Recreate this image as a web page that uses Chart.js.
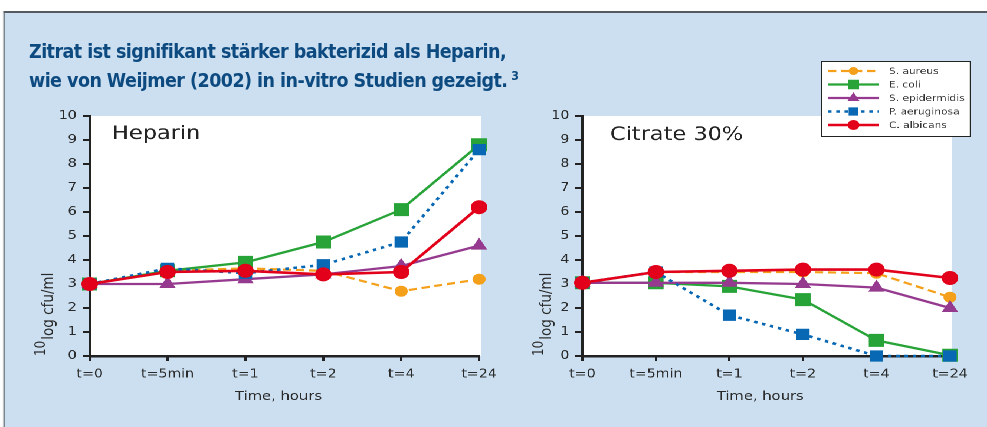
<!DOCTYPE html>
<html><head><meta charset="utf-8">
<script src="https://cdn.jsdelivr.net/npm/chart.js@4.4.1/dist/chart.umd.min.js"></script>
<style>
html,body{margin:0;padding:0;background:#fff;overflow:hidden;}
#wrap{position:absolute;left:0;top:0;width:837px;height:427px;transform:scaleX(1.18);transform-origin:0 0;}
#box{position:absolute;left:3.4px;top:11px;width:900px;height:430px;background:#cbdff0;border-left:1.7px solid #555a60;border-top:2px solid #555a60;}
.tl{position:absolute;left:29px;font-family:"DejaVu Sans";font-weight:bold;font-size:19px;line-height:19px;letter-spacing:-0.6px;color:#0d4a80;white-space:nowrap;transform-origin:0 0;}
.tl sup{font-size:12px;line-height:0;vertical-align:baseline;position:relative;top:-7px;letter-spacing:0;}
canvas{position:absolute;top:50px;}
#c1{left:0;}
#c2{left:420px;}
</style></head>
<body>
<div id="wrap">
  <div id="box"></div>
  <canvas id="c1" width="430" height="370"></canvas>
  <canvas id="c2" width="417" height="370"></canvas>
</div>
<div class="tl" id="t1" style="top:41.5px">Zitrat ist signifikant stärker bakterizid als Heparin,</div>
<div class="tl" id="t2" style="top:71px">wie von Weijmer (2002) in in-vitro Studien gezeigt.<sup> 3</sup></div>
<script>
// ---- data ----
const categories = ['t=0', 't=5min', 't=1', 't=2', 't=4', 't=24'];
const seriesNames = ['S. aureus', 'E. coli', 'S. epidermidis', 'P. aeruginosa', 'C. albicans'];

const heparinAureus       = [3.0, 3.55, 3.65, 3.55, 2.7, 3.2];
const heparinColi         = [3.0, 3.55, 3.9, 4.75, 6.1, 8.8];
const heparinEpidermidis  = [3.0, 3.0, 3.2, 3.4, 3.75, 4.6];
const heparinAeruginosa   = [3.0, 3.65, 3.45, 3.8, 4.75, 8.6];
const heparinAlbicans     = [3.0, 3.5, 3.55, 3.4, 3.5, 6.2];

const citrateAureus       = [3.05, 3.5, 3.5, 3.5, 3.45, 2.45];
const citrateColi         = [3.05, 3.05, 2.9, 2.35, 0.65, 0.03];
const citrateEpidermidis  = [3.05, 3.05, 3.05, 3.0, 2.85, 2.0];
const citrateAeruginosa   = [3.05, 3.5, 1.7, 0.9, 0.0, 0.0];
const citrateAlbicans     = [3.05, 3.5, 3.55, 3.6, 3.6, 3.25];

const yMin = 0, yMax = 10, yStep = 1;
const panelLabels = ['Heparin', 'Citrate 30%'];
const xTitle = 'Time, hours';
const yTitleSup = '10', yTitleMain = 'log cfu/ml';

// ---- title fit ----
(function(){
  const t1 = document.getElementById('t1'), t2 = document.getElementById('t2');
  const k = 477 / t1.getBoundingClientRect().width;
  t1.style.transform = t2.style.transform = 'scaleX(' + k + ')';
})();

// ---- styles ----
const styles = [
  {color:'#f5a01a', dash:[7,4], width:2.2, point:'circle',   r:5},
  {color:'#27a337', dash:[],    width:2.3, point:'rect',     r:8.5},
  {color:'#953a8f', dash:[],    width:2.3, point:'triangle', r:7},
  {color:'#0868b4', dash:[3,4], width:2.6, point:'rect',     r:7.3},
  {color:'#e2001a', dash:[],    width:2.6, point:'circle',   r:6.5}
];
const FONT = '"DejaVu Sans", Verdana, sans-serif';

function drawMarker(ctx, style, r, x, y){
  Chart.helpers.drawPoint(ctx, {pointStyle:style.point, radius:r, rotation:0, borderWidth:1}, x, y);
}

const decor = {
  id:'decor',
  beforeDraw(chart, args, o){
    const {ctx, chartArea:a} = chart;
    ctx.save();
    ctx.fillStyle = '#ffffff';
    ctx.fillRect(a.left, a.top, a.right - a.left + 1.5, a.bottom - a.top);
    ctx.restore();
  },
  afterDraw(chart, args, o){
    const {ctx, chartArea:a} = chart;
    ctx.save();
    // panel label
    ctx.fillStyle = '#222';
    ctx.font = '19px ' + FONT;
    ctx.textBaseline = 'alphabetic';
    ctx.textAlign = 'left';
    ctx.fillText(o.label, a.left + o.labelDx, a.top + o.labelDy);
    // x title
    ctx.font = '12.5px ' + FONT;
    ctx.textAlign = 'center';
    ctx.fillStyle = '#2a2a2a';
    ctx.fillText(xTitle, (a.left + a.right) / 2 - 5, 350);
    // y title (rotated, with superscript 10)
    ctx.save();
    ctx.translate(o.yTitleX, a.bottom);
    ctx.rotate(-Math.PI / 2);
    ctx.textAlign = 'left';
    ctx.font = '12px ' + FONT;
    ctx.fillText(yTitleSup, 0, -7);
    const w = ctx.measureText(yTitleSup).width;
    ctx.font = '13.5px ' + FONT;
    ctx.fillText(yTitleMain, w + 1, 0);
    ctx.restore();
    // legend
    if (o.legend) {
      const L = o.legend;
      ctx.fillStyle = '#fff';
      ctx.fillRect(L.x0, L.y0, L.x1 - L.x0, L.y1 - L.y0);
      ctx.strokeStyle = '#222';
      ctx.lineWidth = 1;
      ctx.strokeRect(L.x0 + 0.5, L.y0 + 0.5, L.x1 - L.x0 - 1, L.y1 - L.y0 - 1);
      ctx.font = '9px ' + FONT;
      ctx.textAlign = 'left';
      ctx.textBaseline = 'middle';
      seriesNames.forEach((name, i) => {
        const st = styles[i];
        const y = L.rowY0 + i * L.rowStep;
        ctx.save();
        ctx.strokeStyle = st.color;
        ctx.lineWidth = st.width;
        ctx.setLineDash(st.dash);
        ctx.beginPath();
        ctx.moveTo(L.lx0, y); ctx.lineTo(L.lx1, y);
        ctx.stroke();
        ctx.setLineDash([]);
        ctx.fillStyle = st.color;
        ctx.strokeStyle = st.color;
        ctx.lineWidth = 1;
        drawMarker(ctx, st, st.r * 0.7, (L.lx0 + L.lx1) / 2, y);
        ctx.restore();
        ctx.fillStyle = '#333';
        ctx.fillText(name, L.tx, y + 0.5);
      });
    }
    ctx.restore();
  }
};

function makeChart(id, values, o){
  return new Chart(document.getElementById(id), {
    type:'line',
    data:{
      labels:categories,
      datasets:values.map((v, i) => ({
        label:seriesNames[i], data:v,
        borderColor:styles[i].color, backgroundColor:styles[i].color,
        borderWidth:styles[i].width, borderDash:styles[i].dash,
        pointStyle:styles[i].point, pointRadius:styles[i].r, pointHoverRadius:styles[i].r,
        pointBorderWidth:1, pointBackgroundColor:styles[i].color, pointBorderColor:styles[i].color,
        tension:0, clip:false, order:5 - i
      }))
    },
    options:{
      responsive:false, animation:false, devicePixelRatio:2,
      layout:{padding:{top:66, right:o.padRight, bottom:0, left:0}},
      events:[],
      plugins:{legend:{display:false}, tooltip:{enabled:false}, decor:o},
      scales:{
        x:{
          type:'category', offset:false,
          grid:{display:true, drawOnChartArea:false, drawTicks:true, tickLength:5, color:'#222', lineWidth:2},
          border:{display:true, color:'#222', width:2.5},
          ticks:{font:{family:FONT, size:12}, color:'#2a2a2a', padding:6, maxRotation:0, autoSkip:false},
          afterFit(s){ s.height = 64; }
        },
        y:{
          min:yMin, max:yMax,
          grid:{display:true, drawOnChartArea:false, drawTicks:true, tickLength:6, color:'#222', lineWidth:2},
          border:{display:true, color:'#222', width:2.5},
          ticks:{stepSize:yStep, font:{family:FONT, size:12}, color:'#2a2a2a', padding:5},
          afterFit(s){ s.width = o.yWidth; }
        }
      }
    },
    plugins:[decor]
  });
}

makeChart('c1',
  [heparinAureus, heparinColi, heparinEpidermidis, heparinAeruginosa, heparinAlbicans],
  {label:panelLabels[0], labelDx:19, labelDy:23, yWidth:76, padRight:24, yTitleX:45});

makeChart('c2',
  [citrateAureus, citrateColi, citrateEpidermidis, citrateAeruginosa, citrateAlbicans],
  {label:panelLabels[1], labelDx:23.5, labelDy:24, yWidth:73.5, padRight:31.9, yTitleX:47,
   legend:{x0:275.8, x1:402.9, y0:11, y1:87, lx0:281.7, lx1:324.9, tx:333.4, rowY0:21, rowStep:13.5}});
</script>
</body></html>
